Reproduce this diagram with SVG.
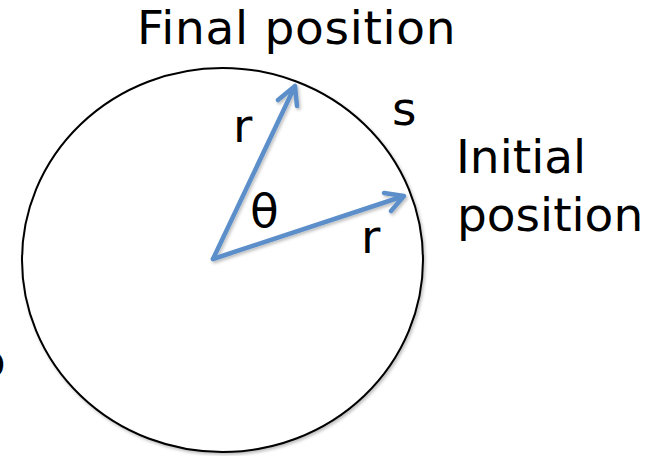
<svg xmlns="http://www.w3.org/2000/svg" width="662" height="456" viewBox="0 0 662 456">
<style>
text{font-family:"DejaVu Sans","Verdana",sans-serif;font-size:47px;fill:#000}
.arrow{fill:none;stroke:#5b8fca;stroke-width:4.5;stroke-linecap:round;stroke-linejoin:round}
</style>
<defs>
<filter id="sh" x="-10%" y="-10%" width="130%" height="130%">
<feDropShadow dx="1.5" dy="2" stdDeviation="1.5" flood-color="#000" flood-opacity="0.25"/>
</filter>
</defs>
<rect width="662" height="456" fill="#fff"/>
<g id="circle">
<ellipse cx="222.5" cy="260" rx="200.5" ry="192" fill="#fff" stroke="#000" stroke-width="2" filter="url(#sh)"/>
</g>
<g id="connectors" filter="url(#sh)">
<path class="arrow" d="M213 259 L295 86 M278 100 L295 86 L297 106"/>
<path class="arrow" d="M213 259 L404 196 M384 193 L404 196 L391 211"/>
</g>
<g id="labels">
<text x="137" y="44" letter-spacing="0.7">Final position</text>
<text x="456" y="173">Initial</text>
<text x="457" y="231">position</text>
<text x="233" y="142">r</text>
<text x="361" y="253">r</text>
<text x="392" y="125">s</text>
<text x="250" y="227" font-size="50">θ</text>
<text x="-23" y="377">o</text>
</g>
</svg>
